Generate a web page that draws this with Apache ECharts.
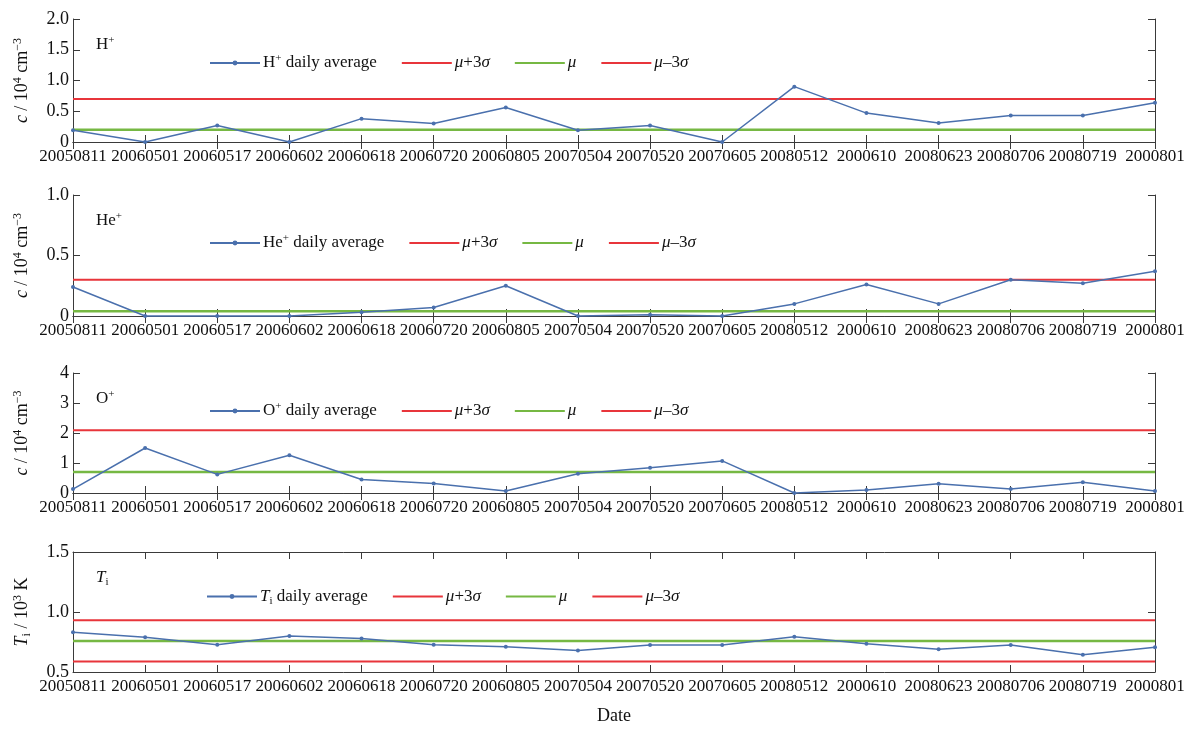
<!DOCTYPE html>
<html>
<head>
<meta charset="utf-8">
<script src="https://cdn.jsdelivr.net/npm/echarts@6/dist/echarts.min.js"></script>
<style>
html,body{margin:0;padding:0;background:#fff;}
#chart{width:1200px;height:734px;}
</style>
</head>
<body>
<div id="chart"></div>
<script>
// ---------- data ----------
const categories = ['20050811','20060501','20060517','20060602','20060618','20060720','20060805','20070504','20070520','20070605','20080512','2000610','20080623','20080706','20080719','2000801'];

const hAvg  = [0.19, 0.00, 0.27, 0.00, 0.38, 0.30, 0.56, 0.19, 0.27, 0.00, 0.90, 0.47, 0.31, 0.43, 0.43, 0.64];
const hUpper = 0.70, hMean = 0.20, hLower = -0.30;

const heAvg = [0.24, 0.00, 0.00, 0.00, 0.03, 0.07, 0.25, 0.00, 0.01, 0.00, 0.10, 0.26, 0.10, 0.30, 0.27, 0.37];
const heUpper = 0.30, heMean = 0.04, heLower = -0.22;

const oAvg  = [0.13, 1.50, 0.62, 1.26, 0.45, 0.32, 0.07, 0.64, 0.84, 1.07, 0.00, 0.10, 0.31, 0.13, 0.36, 0.07];
const oUpper = 2.09, oMean = 0.70, oLower = -0.69;

const tAvg  = [0.832, 0.790, 0.728, 0.800, 0.780, 0.728, 0.710, 0.680, 0.725, 0.725, 0.794, 0.736, 0.690, 0.725, 0.643, 0.706];
const tUpper = 0.931, tMean = 0.758, tLower = 0.588;

const yTicksH  = ['0','0.5','1.0','1.5','2.0'];
const yTicksHe = ['0','0.5','1.0'];
const yTicksO  = ['0','1','2','3','4'];
const yTicksT  = ['0.5','1.0','1.5'];

// ---------- styling ----------
const FONT = 'Liberation Serif';
const BLUE = '#4a70ad', RED = '#e8353b', GREEN = '#76b843', AXIS = '#3a3a3a';
function makeRich(size, supSize) {
  return {
    n:   {fontFamily: FONT, fontSize: size, fontWeight: 'normal', color: '#111'},
    i:   {fontFamily: FONT, fontSize: size, fontWeight: 'normal', fontStyle: 'italic', color: '#111'},
    sup: {fontFamily: FONT, fontSize: supSize, fontWeight: 'normal', color: '#111', verticalAlign: 'top', lineHeight: size + 3},
    sub: {fontFamily: FONT, fontSize: supSize, fontWeight: 'normal', color: '#111', verticalAlign: 'bottom', lineHeight: size + 3}
  };
}
const rich = makeRich(17, 11);
const richName = makeRich(18, 12);

const panels = [
  {key:'h',  avg:hAvg,  up:hUpper,  mu:hMean,  lo:hLower,  min:0,   max:2,   interval:0.5, ticks:yTicksH,
   top:19,  height:123, legendTop:48,  legendLeft:204,
   label:'{n|H}{sup|+}', avgName:'{n|H}{sup|+}{n| daily average}', yName:'{i|c}{n| / 10}{sup|4}{n| cm}{sup|−3}'},
  {key:'he', avg:heAvg, up:heUpper, mu:heMean, lo:heLower, min:0,   max:1,   interval:0.5, ticks:yTicksHe,
   top:195, height:121, legendTop:228, legendLeft:204,
   label:'{n|He}{sup|+}', avgName:'{n|He}{sup|+}{n| daily average}', yName:'{i|c}{n| / 10}{sup|4}{n| cm}{sup|−3}'},
  {key:'o',  avg:oAvg,  up:oUpper,  mu:oMean,  lo:oLower,  min:0,   max:4,   interval:1,   ticks:yTicksO,
   top:373, height:120, legendTop:396, legendLeft:204,
   label:'{n|O}{sup|+}', avgName:'{n|O}{sup|+}{n| daily average}', yName:'{i|c}{n| / 10}{sup|4}{n| cm}{sup|−3}'},
  {key:'t',  avg:tAvg,  up:tUpper,  mu:tMean,  lo:tLower,  min:0.5, max:1.5, interval:0.5, ticks:yTicksT,
   top:552, height:120, legendTop:583, legendLeft:201,
   label:'{i|T}{sub|i}', avgName:'{i|T}{sub|i}{n| daily average}', yName:'{i|T}{sub|i}{n| / 10}{sup|3}{n| K}'}
];

const displayNames = {};
const grid = [], xAxis = [], yAxis = [], series = [], legend = [], title = [];

panels.forEach((p, k) => {
  grid.push({left:73, right:45, top:p.top, height:p.height, containLabel:false});
  const nm = {avg:p.key+'_avg', up:p.key+'_up', mu:p.key+'_mu', lo:p.key+'_lo'};
  displayNames[nm.avg] = p.avgName;
  displayNames[nm.up]  = '{i|μ}{n|+3}{i|σ}';
  displayNames[nm.mu]  = '{i|μ}';
  displayNames[nm.lo]  = '{i|μ}{n|–3}{i|σ}';

  // bottom x axis
  xAxis.push({
    type:'category', gridIndex:k, data:categories, boundaryGap:false, position:'bottom',
    axisLine:{show:true, lineStyle:{color:AXIS, width:1}},
    axisTick:{show:true, inside:true, length:7, interval:0, lineStyle:{color:AXIS}},
    axisLabel:{interval:0, fontFamily:FONT, fontSize:17, color:'#111', margin:6},
    splitLine:{show:false},
    name: k === 3 ? 'Date' : '', nameLocation:'middle', nameGap:35,
    nameTextStyle:{fontFamily:FONT, fontSize:18, color:'#111'}
  });
  // top x axis (frame + ticks)
  xAxis.push({
    type:'category', gridIndex:k, data:categories, boundaryGap:false, position:'top',
    axisLine:{show:true, lineStyle:{color:AXIS, width:1}},
    axisTick:{show:true, inside:true, length:7, interval:0, lineStyle:{color:AXIS}},
    axisLabel:{show:false}, splitLine:{show:false}
  });
  // left y axis
  yAxis.push({
    type:'value', gridIndex:k, min:p.min, max:p.max, interval:p.interval, position:'left',
    axisLine:{show:true, lineStyle:{color:AXIS, width:1}},
    axisTick:{show:true, inside:true, length:7, lineStyle:{color:AXIS}},
    axisLabel:{fontFamily:FONT, fontSize:18, color:'#111', margin:4,
      formatter:(v)=>{ const idx = Math.round((v - p.min)/p.interval); return p.ticks[idx]; }},
    splitLine:{show:false},
    name:p.yName, nameLocation:'middle', nameRotate:90, nameGap:40,
    nameTextStyle:{rich:richName}
  });
  // right y axis (frame + ticks)
  yAxis.push({
    type:'value', gridIndex:k, min:p.min, max:p.max, interval:p.interval, position:'right',
    axisLine:{show:true, lineStyle:{color:AXIS, width:1}},
    axisTick:{show:true, inside:true, length:7, lineStyle:{color:AXIS}},
    axisLabel:{show:false}, splitLine:{show:false}
  });

  const xi = k*2, yi = k*2;
  const flat = (v) => categories.map(() => v);
  series.push({
    name:nm.up, type:'line', xAxisIndex:xi, yAxisIndex:yi, data:flat(p.up),
    symbol:'none', lineStyle:{color:RED, width:2}, itemStyle:{color:RED}, silent:true, z:2
  });
  series.push({
    name:nm.mu, type:'line', xAxisIndex:xi, yAxisIndex:yi, data:flat(p.mu),
    symbol:'none', lineStyle:{color:GREEN, width:2.5}, itemStyle:{color:GREEN}, silent:true, z:2
  });
  series.push({
    name:nm.lo, type:'line', xAxisIndex:xi, yAxisIndex:yi, data:flat(p.lo),
    symbol:'none', lineStyle:{color:RED, width:2}, itemStyle:{color:RED}, silent:true, z:2, clip:true
  });
  series.push({
    name:nm.avg, type:'line', xAxisIndex:xi, yAxisIndex:yi, data:p.avg,
    symbol:'circle', symbolSize:4, showSymbol:true,
    lineStyle:{color:BLUE, width:1.5}, itemStyle:{color:BLUE}, z:3, clip:false
  });

  legend.push({
    left:p.legendLeft, top:p.legendTop, orient:'horizontal',
    data:[
      {name:nm.avg},
      {name:nm.up, itemStyle:{opacity:0}},
      {name:nm.mu, itemStyle:{opacity:0}},
      {name:nm.lo, itemStyle:{opacity:0}}
    ],
    itemWidth:50, itemHeight:6, itemGap:24, selectedMode:false,
    formatter:(name)=>displayNames[name],
    textStyle:{rich:rich, padding:[0,0,0,-2]}
  });

  title.push({
    text:p.label, left:91, top:p.top + 11,
    textStyle:{rich:rich, fontWeight:'normal'}
  });
});

const chart = echarts.init(document.getElementById('chart'), null, {renderer:'canvas'});
chart.setOption({
  animation:false,
  backgroundColor:'#ffffff',
  title:title, grid:grid, xAxis:xAxis, yAxis:yAxis, legend:legend, series:series
});
</script>
</body>
</html>
